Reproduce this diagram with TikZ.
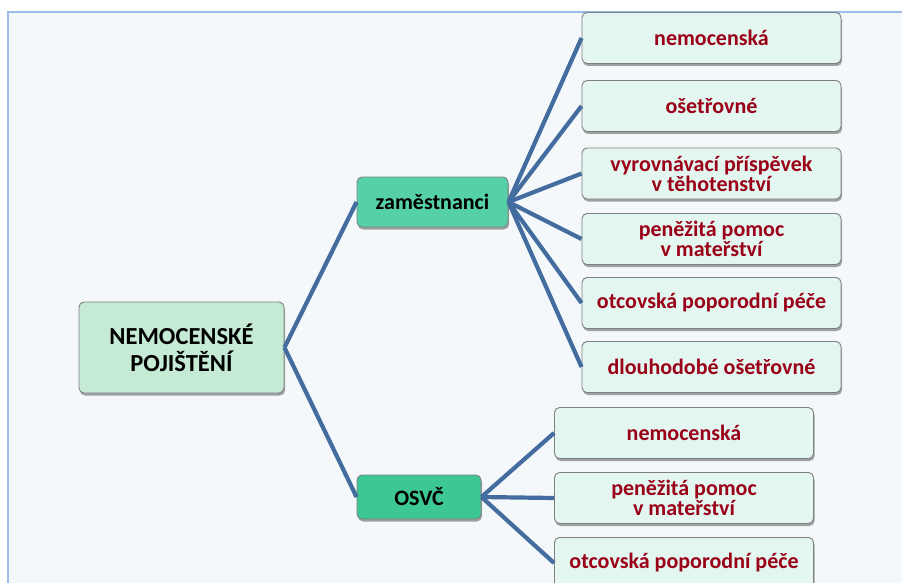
\documentclass[tikz,border=0pt]{standalone}
\usepackage{fontspec}
\setmainfont{Carlito}
\usepackage{tikz}
\usetikzlibrary{shadows}

\definecolor{bgfill}{HTML}{F4F8FB}
\definecolor{frameblue}{HTML}{9CBDE8}
\definecolor{rootfill}{HTML}{C6EBD5}
\definecolor{groupfill}{HTML}{56D1A7}
\definecolor{osvcfill}{HTML}{3DC795}
\definecolor{leaffill}{HTML}{E3F6EF}
\definecolor{leaftext}{HTML}{9A0018}
\definecolor{linkblue}{HTML}{436C9F}
\definecolor{boxline}{HTML}{7F7F7F}

\begin{document}
\begin{tikzpicture}[x=1pt,y=-1pt,
	box/.style={draw=boxline,line width=0.9pt,rounded corners=5pt,align=center,inner sep=2pt,
		font=\bfseries\fontsize{22}{20}\selectfont,
		drop shadow={shadow xshift=1pt,shadow yshift=-2.5pt,opacity=0.35,fill=black}},
	rootbox/.style={box,fill=rootfill,minimum width=205pt,minimum height=91pt,font=\bfseries\fontsize{24.5}{27}\selectfont},
	groupbox/.style={box,fill=groupfill,minimum height=50pt},
	leafbox/.style={box,fill=leaffill,text=leaftext,minimum width=259pt,minimum height=51pt},
	link/.style={draw=linkblue,line width=4.2pt}]
		
		\useasboundingbox (0,0) rectangle (902,583);
		\fill[bgfill] (8,12) rectangle (910,590);
		\draw[frameblue,line width=2pt] (8,590) -- (8,12) -- (910,12);
		
		\node[rootbox] (root) at (181.5,347.5) {NEMOCENSKÉ\\POJIŠTĚNÍ};
		\node[groupbox,minimum width=151pt] (zam) at (432.5,202) {zaměstnanci};
		\node[groupbox,fill=osvcfill,minimum width=124pt,minimum height=44pt] (osvc) at (419,497) {OSVČ};
		
		\node[leafbox] (z1) at (711.5,38) {nemocenská};
		\node[leafbox] (z2) at (711.5,106) {ošetřovné};
		\node[leafbox] (z3) at (711.5,173.5) {vyrovnávací příspěvek\\v těhotenství};
		\node[leafbox] (z4) at (711.5,239) {peněžitá pomoc\\v mateřství};
		\node[leafbox] (z5) at (711.5,303) {otcovská poporodní péče};
		\node[leafbox] (z6) at (711.5,367) {dlouhodobé ošetřovné};
		
		\node[leafbox] (o1) at (684,433) {nemocenská};
		\node[leafbox] (o2) at (684,498) {peněžitá pomoc\\v mateřství};
		\node[leafbox] (o3) at (684,563) {otcovská poporodní péče};
		
		\draw[link] (root.east) -- (zam.west);
		\draw[link] (root.east) -- (osvc.west);
		\foreach \i in {1,...,6} \draw[link] (zam.east) -- (z\i.west);
		\foreach \i in {1,2,3} \draw[link] (osvc.east) -- (o\i.west);
		
\end{tikzpicture}
\end{document}
